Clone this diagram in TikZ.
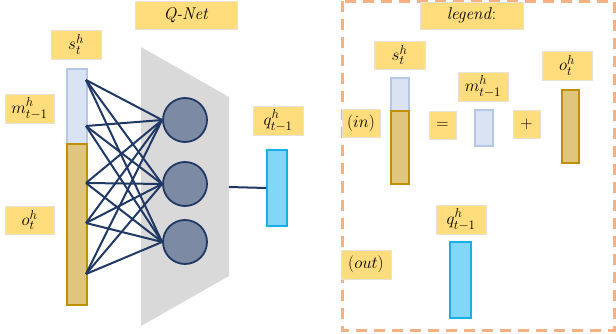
\RequirePackage{fix-cm}
\documentclass[tikz,border=0pt]{standalone}
\usepackage{amsmath}
\DeclareMathSizes{17}{17}{13}{10}
\definecolor{lab}{HTML}{FFDC7C}
\definecolor{labline}{HTML}{E6E2D6}
\definecolor{lbfill}{HTML}{DAE3F3}
\definecolor{lbline}{HTML}{B4C7E7}
\definecolor{gdfill}{HTML}{DFC57E}
\definecolor{gdline}{HTML}{BF9000}
\definecolor{cyfill}{HTML}{82D6F7}
\definecolor{cyline}{HTML}{1AAEE8}
\definecolor{navy}{HTML}{203864}
\definecolor{neur}{HTML}{7C8AA3}
\definecolor{trap}{HTML}{D9D9D9}
\definecolor{dashc}{HTML}{F4B183}
\tikzset{
  lbl/.style={fill=lab, draw=labline, line width=0.6pt, inner sep=0pt, font=\fontsize{17}{19}\selectfont},
  bluebar/.style={fill=lbfill, draw=lbline, line width=2pt},
  goldbar/.style={fill=gdfill, draw=gdline, line width=2pt},
  cyanbar/.style={fill=cyfill, draw=cyline, line width=2pt},
  neuron/.style={circle, fill=neur, draw=navy, line width=1.8pt, minimum size=44pt, inner sep=0pt},
  wire/.style={draw=navy, line width=2pt},
}
\begin{document}
\begin{tikzpicture}[x=1pt,y=-1pt]
\useasboundingbox (0,0) rectangle (616,334);
% Q-Net trapezoid
\fill[trap] (141,47) -- (229,97) -- (229,276) -- (141,326) -- cycle;
\coordinate (qout) at (229,187);
% input bar
\node[bluebar, minimum width=20pt, minimum height=75pt, inner sep=0pt, anchor=north west] (inb) at (66,68) {};
\node[goldbar, minimum width=20pt, minimum height=161pt, inner sep=0pt, anchor=north west] (ing) at (66,143) {};
% neurons
\node[neuron] (n1) at (185,120) {};
\node[neuron] (n2) at (185,184) {};
\node[neuron] (n3) at (185,242) {};
% input points
\coordinate (p1) at (86,80);
\coordinate (p2) at (86,126);
\coordinate (p3) at (86,183);
\coordinate (p4) at (86,223);
\coordinate (p5) at (86,274);
\foreach \p in {p1,p2,p3,p4,p5}{
  \foreach \n in {n1,n2,n3}{
    \draw[wire] (\p) -- (\n.west);
  }
}
% output bar
\node[cyanbar, minimum width=20pt, minimum height=76pt, inner sep=0pt, anchor=north west] (qb) at (266,149) {};
\draw[wire] (qout) -- (qb.west);
% labels
\node[lbl, minimum width=102pt, minimum height=28pt] (qnet) at (186,15) {\textit{Q-Net}};
\node[lbl, minimum width=50pt, minimum height=29pt] (sl) at (76,44.5) {$s_t^h$};
\node[lbl, minimum width=49pt, minimum height=29pt] (ml) at (29.5,108.5) {$m_{t-1}^h$};
\node[lbl, minimum width=49pt, minimum height=28pt] (ol) at (29.5,220) {$o_t^h$};
\node[lbl, minimum width=50pt, minimum height=29pt] (ql) at (278,120.5) {$q_{t-1}^h$};
% legend box
\draw[dashc, line width=3pt, dash pattern=on 11pt off 7pt] (342,1.5) rectangle (614.5,330);
\node[lbl, minimum width=103pt, minimum height=27pt] (leg) at (471.5,15.5) {\textit{legend}:};
\node[lbl, minimum width=51pt, minimum height=28pt] (ls) at (399.5,55) {$s_t^h$};
\node[bluebar, minimum width=18pt, minimum height=33pt, inner sep=0pt, anchor=north west] (lsb) at (390,77) {};
\node[goldbar, minimum width=18pt, minimum height=73pt, inner sep=0pt, anchor=north west] (lsg) at (390,110) {};
\node[lbl, minimum width=38pt, minimum height=28pt] (lin) at (361,123) {$(in)$};
\node[lbl, minimum width=27pt, minimum height=28pt] (leq) at (442.5,125) {$=$};
\node[lbl, minimum width=50pt, minimum height=29pt] (lm) at (483,86.5) {$m_{t-1}^h$};
\node[bluebar, minimum width=18pt, minimum height=36pt, inner sep=0pt, anchor=north west] (lmb) at (474,109) {};
\node[lbl, minimum width=27pt, minimum height=28pt] (lplus) at (526.5,124) {$+$};
\node[lbl, minimum width=50pt, minimum height=29pt] (lo) at (567,65.5) {$o_t^h$};
\node[goldbar, minimum width=17pt, minimum height=73pt, inner sep=0pt, anchor=north west] (lob) at (561,89) {};
\node[lbl, minimum width=50pt, minimum height=29pt] (lq) at (461,219.5) {$q_{t-1}^h$};
\node[cyanbar, minimum width=21pt, minimum height=76pt, inner sep=0pt, anchor=north west] (lqb) at (449,241) {};
\node[lbl, minimum width=50pt, minimum height=29pt] (lout) at (366,264.5) {$(out)$};
\end{tikzpicture}
\end{document}
